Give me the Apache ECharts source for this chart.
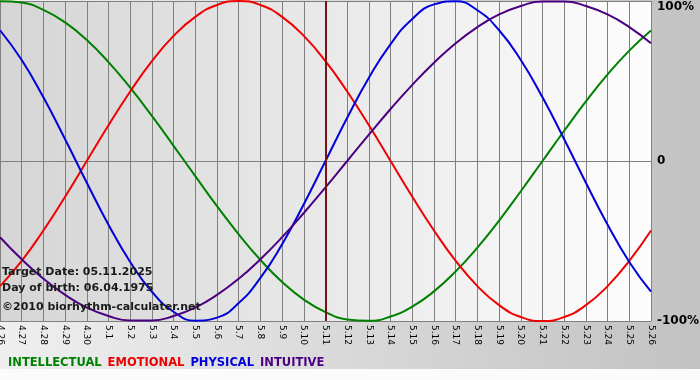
<!DOCTYPE html>
<html>
<head>
<meta charset="utf-8">
<script src="https://cdn.jsdelivr.net/npm/echarts@6/dist/echarts.min.js"></script>
<style>
  html, body { margin: 0; padding: 0; }
  #chart { width: 700px; height: 380px; }
</style>
</head>
<body>
<div id="chart"></div>
<script>
// days shown on the x axis (month.day)
var days = ['4.26', '4.27', '4.28', '4.29', '4.30',
  '5.1', '5.2', '5.3', '5.4', '5.5', '5.6', '5.7', '5.8', '5.9', '5.10',
  '5.11', '5.12', '5.13', '5.14', '5.15', '5.16', '5.17', '5.18', '5.19', '5.20',
  '5.21', '5.22', '5.23', '5.24', '5.25', '5.26'];

// values in percent
var intellectual = [99.9, 99.0, 94.5, 86.6, 75.6, 61.8, 45.8, 28.2, 9.5, -9.5,
  -28.2, -45.8, -61.8, -75.6, -86.6, -94.5, -99.0, -99.9, -97.2, -91.0,
  -81.5, -69.0, -54.1, -37.2, -18.9, 0, 18.9, 37.2, 54.1, 69.0, 81.5];
var emotional = [-78.2, -62.4, -43.4, -22.3, 0, 22.3, 43.4, 62.4, 78.2, 90.1,
  97.5, 100, 97.5, 90.1, 78.2, 62.4, 43.4, 22.3, 0, -22.3,
  -43.4, -62.4, -78.2, -90.1, -97.5, -100, -97.5, -90.1, -78.2, -62.4, -43.4];
var physical = [81.7, 63.1, 39.8, 13.6, -13.6, -39.8, -63.1, -81.7, -94.2, -99.8,
  -97.9, -88.8, -73.1, -52.0, -27.0, 0, 27.0, 52.0, 73.1, 88.8,
  97.9, 99.8, 94.2, 81.7, 63.1, 39.8, 13.6, -13.6, -39.8, -63.1, -81.7];
var intuitive = [-47.6, -61.4, -73.6, -83.7, -91.6, -96.9, -99.7, -99.7, -96.9, -91.6,
  -83.7, -73.6, -61.4, -47.6, -32.5, -16.5, 0, 16.5, 32.5, 47.6,
  61.4, 73.6, 83.7, 91.6, 96.9, 99.7, 99.7, 96.9, 91.6, 83.7, 73.6];

var targetDay = '5.11';
var infoLines = ['Target Date: 05.11.2025', 'Day of birth: 06.04.1975', '\u00a92010 biorhythm-calculater.net'];

var chart = echarts.init(document.getElementById('chart'));

function curve(name, data, color) {
  return {
    name: name,
    type: 'line',
    data: data,
    smooth: true,
    symbol: 'none',
    lineStyle: { color: color, width: 2 },
    itemStyle: { color: color },
    emphasis: { disabled: true }
  };
}

var series = [
  curve('INTELLECTUAL', intellectual, '#008000'),
  curve('EMOTIONAL', emotional, '#f00000'),
  curve('PHYSICAL', physical, '#0000dd'),
  curve('INTUITIVE', intuitive, '#4b0082')
];
series[0].markLine = {
  silent: true,
  symbol: 'none',
  label: { show: false },
  lineStyle: { color: '#7a1414', width: 2, type: 'solid' },
  data: [{ xAxis: targetDay }]
};

chart.setOption({
  animation: false,
  backgroundColor: {
    type: 'linear', x: 0, y: 0, x2: 1, y2: 0,
    colorStops: [{ offset: 0, color: '#efefef' }, { offset: 1, color: '#c2c2c2' }]
  },
  textStyle: { fontFamily: 'DejaVu Sans' },
  grid: {
    left: 0, right: 49, top: 1, bottom: 59,
    outerBoundsMode: 'none',
    containLabel: false,
    show: true,
    borderWidth: 0,
    backgroundColor: {
      type: 'linear', x: 0, y: 0, x2: 1, y2: 0,
      colorStops: [{ offset: 0, color: '#d5d5d5' }, { offset: 1, color: '#fdfdfd' }]
    }
  },
  legend: {
    left: 2, top: 357, padding: 0,
    itemWidth: 0, itemHeight: 0, itemGap: 0,
    selectedMode: false,
    data: [
      { name: 'INTELLECTUAL', textStyle: { color: '#008000' } },
      { name: 'EMOTIONAL', textStyle: { color: '#f00000' } },
      { name: 'PHYSICAL', textStyle: { color: '#0000dd' } },
      { name: 'INTUITIVE', textStyle: { color: '#4b0082' } }
    ],
    textStyle: { fontSize: 11.5, fontWeight: 'bold', fontFamily: 'DejaVu Sans' }
  },
  xAxis: {
    type: 'category',
    data: days,
    boundaryGap: false,
    axisLine: { lineStyle: { color: '#808080', width: 1 } },
    axisTick: { show: true, length: 3, lineStyle: { color: '#808080' } },
    axisLabel: { interval: 0, rotate: -90, fontSize: 9, color: '#000', margin: 4 },
    splitLine: { show: true, interval: 0, lineStyle: { color: '#808080', width: 1 } }
  },
  yAxis: {
    type: 'value',
    position: 'right',
    min: -100, max: 100, interval: 100,
    axisLine: { show: false },
    axisTick: { show: false },
    axisLabel: {
      margin: 6,
      color: '#000',
      fontSize: 12,
      fontWeight: 'bold',
      formatter: function (v) {
        if (v === 100) return '{top|100%}';
        return v === 0 ? '0' : v + '%';
      },
      rich: { top: { fontSize: 12, fontWeight: 'bold', color: '#000', padding: [12, 0, 0, 0] } }
    },
    splitLine: { lineStyle: { color: '#808080', width: 1 } }
  },
  graphic: [
    { type: 'rect', left: 0, top: 369, shape: { width: 700, height: 11 }, style: { fill: '#fbfbfb' }, z: 0 },
    { type: 'text', left: 2, top: 267, z: 100, style: { text: infoLines[0], fill: '#1a1a1a', font: 'bold 11px "DejaVu Sans"' } },
    { type: 'text', left: 2, top: 283, z: 100, style: { text: infoLines[1], fill: '#1a1a1a', font: 'bold 11px "DejaVu Sans"' } },
    { type: 'text', left: 2, top: 302, z: 100, style: { text: infoLines[2], fill: '#1a1a1a', font: 'bold 11px "DejaVu Sans"' } }
  ],
  series: series
});
</script>
</body>
</html>
